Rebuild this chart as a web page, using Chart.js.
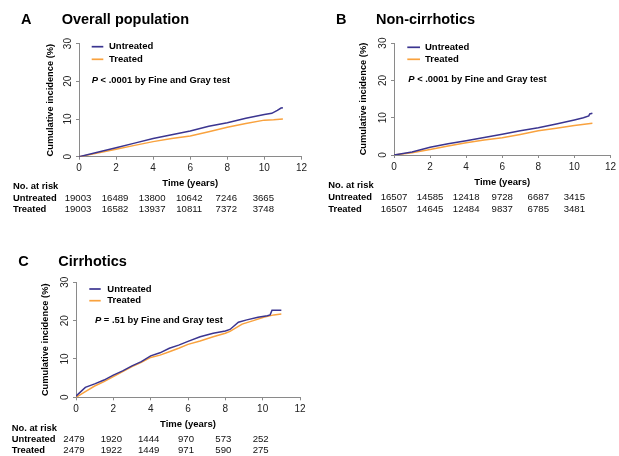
<!DOCTYPE html>
<html><head><meta charset="utf-8">
<script src="https://cdn.jsdelivr.net/npm/chart.js@4"></script>
<style>
html,body{margin:0;padding:0;background:#fff;}
#wrap{position:relative;width:619px;height:456px;overflow:hidden;background:#fff}
canvas{position:absolute}
</style></head><body>
<div id="wrap">
<canvas id="cA" width="310" height="220" style="left:0;top:0;width:310px;height:220px"></canvas>
<canvas id="cB" width="309" height="220" style="left:310px;top:0;width:309px;height:220px"></canvas>
<canvas id="cC" width="310" height="236" style="left:0;top:220px;width:310px;height:236px"></canvas>
</div>
<script>
// ---------- data ----------
const seriesNames = ['Untreated', 'Treated'];
const xTicks = [0, 2, 4, 6, 8, 10, 12];
const yTicks = [0, 10, 20, 30];

// Panel A: Overall population
const aUntreatedT = [0, 1, 2, 3, 4, 5, 6, 7, 8, 9, 10, 10.4, 10.7, 10.9, 11];
const aUntreatedY = [0, 1.2, 2.4, 3.6, 4.8, 5.8, 6.8, 8.1, 9.0, 10.2, 11.2, 11.5, 12.3, 12.9, 13.0];
const aTreatedT = [0, 1, 2, 3, 4, 5, 6, 7, 8, 9, 10, 10.5, 11];
const aTreatedY = [0, 0.95, 1.95, 3.0, 4.0, 4.8, 5.5, 6.6, 7.8, 8.8, 9.7, 9.8, 10.0];

// Panel B: Non-cirrhotics
const bUntreatedT = [0, 1, 2, 3, 4, 5, 6, 7, 8, 9, 10, 10.5, 10.8, 10.85, 11];
const bUntreatedY = [0, 0.8, 2.05, 3.0, 3.85, 4.7, 5.55, 6.5, 7.3, 8.3, 9.4, 10.0, 10.5, 11.0, 11.2];
const bTreatedT = [0, 1, 2, 3, 4, 5, 6, 7, 8, 9, 10, 11];
const bTreatedY = [0, 0.6, 1.5, 2.4, 3.3, 4.0, 4.6, 5.5, 6.5, 7.2, 7.9, 8.5];

// Panel C: Cirrhotics
const cUntreatedT = [0, 0.5, 1, 1.5, 2, 2.5, 3, 3.5, 4, 4.5, 5, 5.5, 6, 6.65, 7.35, 8, 8.25, 8.7, 9.15, 9.75, 10.25, 10.4, 10.5, 11];
const cUntreatedY = [0.3, 2.6, 3.5, 4.5, 5.8, 6.9, 8.2, 9.3, 10.8, 11.6, 12.8, 13.6, 14.6, 15.8, 16.7, 17.3, 17.7, 19.6, 20.2, 20.9, 21.3, 21.5, 22.7, 22.7];
const cTreatedT = [0, 0.5, 1, 1.5, 2, 2.5, 3, 3.5, 4, 4.5, 5, 5.5, 6, 6.65, 7.35, 8, 8.25, 8.9, 9.5, 10.05, 10.6, 11];
const cTreatedY = [0, 1.5, 2.95, 4.1, 5.4, 6.7, 8.0, 9.1, 10.4, 11.0, 11.9, 12.8, 13.8, 14.7, 15.8, 16.7, 17.2, 19.1, 20.0, 20.9, 21.5, 21.7];

// Numbers at risk
const riskTimes = [0, 2, 4, 6, 8, 10];
const aRiskUntreated = [19003, 16489, 13800, 10642, 7246, 3665];
const aRiskTreated = [19003, 16582, 13937, 10811, 7372, 3748];
const bRiskUntreated = [16507, 14585, 12418, 9728, 6687, 3415];
const bRiskTreated = [16507, 14645, 12484, 9837, 6785, 3481];
const cRiskUntreated = [2479, 1920, 1444, 970, 573, 252];
const cRiskTreated = [2479, 1922, 1449, 971, 590, 275];

const pTexts = ['< .0001 by Fine and Gray test', '< .0001 by Fine and Gray test', '= .51 by Fine and Gray test'];

// ---------- styling ----------
const FAM = "'Liberation Sans', Arial, Helvetica, sans-serif";
const COL_U = '#3b3590';
const COL_T = '#f9a23e';
const AXIS = '#8a8a8a';

function pts(ts, ys) { return ts.map((t, i) => ({x: t, y: ys[i]})); }

const panelPlugin = {
  id: 'panelText',
  afterDraw(chart, args, o) {
    const ctx = chart.ctx, ca = chart.chartArea, xs = chart.scales.x;
    ctx.save();
    ctx.fillStyle = '#000';
    ctx.textBaseline = 'middle';
    ctx.textAlign = 'left';
    // panel letter and title
    ctx.font = `bold 14.5px ${FAM}`;
    ctx.fillText(o.letter, o.letterX, o.titleY);
    ctx.fillText(o.title, o.titleX, o.titleY);
    // legend
    const ds = chart.data.datasets;
    ds.forEach((d, i) => {
      const y = ca.top + o.legY + i * o.legGap;
      ctx.strokeStyle = d.borderColor;
      ctx.lineWidth = 1.7;
      ctx.beginPath();
      ctx.moveTo(ca.left + o.legX0, y);
      ctx.lineTo(ca.left + o.legX1, y);
      ctx.stroke();
      ctx.font = `bold 9.5px ${FAM}`;
      ctx.fillText(d.label, ca.left + o.legTX, y);
    });
    // p-value text
    let px = ca.left + o.pX;
    const py = ca.top + o.pY;
    ctx.font = `italic bold 9.4px ${FAM}`;
    ctx.fillText('P', px, py);
    px += ctx.measureText('P ').width;
    ctx.font = `bold 9.4px ${FAM}`;
    ctx.fillText(o.pText, px, py);
    // numbers at risk
    const base = ca.bottom;
    ctx.font = `bold 9.4px ${FAM}`;
    ctx.fillText('No. at risk', o.rowX, base + o.r0);
    ctx.fillText(seriesNames[0], o.rowX, base + o.r1);
    ctx.fillText(seriesNames[1], o.rowX, base + o.r2);
    ctx.font = `9.6px ${FAM}`;
    ctx.fillStyle = '#111';
    ctx.textAlign = 'center';
    riskTimes.forEach((t, i) => {
      const x = xs.getPixelForValue(t) + o.nOff;
      ctx.fillText(String(o.risk[0][i]), x, base + o.r1);
      ctx.fillText(String(o.risk[1][i]), x, base + o.r2);
    });
    ctx.restore();
  }
};

function makeChart(id, p) {
  const el = document.getElementById(id);
  const H = el.height;
  return new Chart(el, {
    type: 'line',
    data: {
      datasets: [
        {label: seriesNames[0], data: pts(p.uT, p.uY), borderColor: COL_U, borderWidth: 1.5, pointRadius: 0, tension: 0, fill: false},
        {label: seriesNames[1], data: pts(p.tT, p.tY), borderColor: COL_T, borderWidth: 1.5, pointRadius: 0, tension: 0, fill: false}
      ]
    },
    options: {
      responsive: false,
      animation: false,
      events: [],
      layout: {padding: {left: 0, top: p.top, right: p.right, bottom: 0}},
      plugins: {legend: {display: false}, tooltip: {enabled: false}, title: {display: false}, panelText: p.text},
      scales: {
        x: {
          type: 'linear', min: 0, max: 12,
          afterBuildTicks(s) { s.ticks = xTicks.map(v => ({value: v})); },
          ticks: {color: '#222', font: {family: FAM, size: 10}, padding: 3, maxRotation: 0, autoSkip: false},
          grid: {drawOnChartArea: false, drawTicks: true, tickLength: 3, color: AXIS},
          border: {display: true, color: AXIS, width: 1},
          title: {display: true, text: 'Time (years)', color: '#000', font: {family: FAM, size: 9.5, weight: 'bold'}, padding: {top: 0, bottom: p.xTitlePad}},
          afterFit(s) { s.height = H - p.bottom; }
        },
        y: {
          type: 'linear', min: 0, max: 30,
          afterBuildTicks(s) { s.ticks = yTicks.map(v => ({value: v})); },
          ticks: {color: '#222', font: {family: FAM, size: 10}, padding: 2, minRotation: 90, maxRotation: 90, crossAlign: 'center'},
          grid: {drawOnChartArea: false, drawTicks: true, tickLength: 3, color: AXIS},
          border: {display: true, color: AXIS, width: 1},
          title: {display: true, text: 'Cumulative incidence (%)', color: '#000', font: {family: FAM, size: 9.3, weight: 'bold'}, padding: {top: p.yTitlePad, bottom: 0}},
          afterFit(s) { s.width = p.left; }
        }
      }
    },
    plugins: [panelPlugin]
  });
}

makeChart('cA', {
  uT: aUntreatedT, uY: aUntreatedY, tT: aTreatedT, tY: aTreatedY,
  left: 79, top: 43.6, right: 6.7, bottom: 156.7, xTitlePad: 30.7, yTitlePad: 44.4,
  text: {letter: 'A', letterX: 21, title: 'Overall population', titleX: 61.7, titleY: 20,
    legX0: 12.7, legX1: 24.3, legTX: 30, legY: 3.1, legGap: 12.6, pX: 12.7, pY: 36.4, pText: pTexts[0],
    rowX: 13, r0: 29.3, r1: 41.6, r2: 52.6, nOff: -1, risk: [aRiskUntreated, aRiskTreated]}
});
makeChart('cB', {
  uT: bUntreatedT, uY: bUntreatedY, tT: bTreatedT, tY: bTreatedY,
  left: 84, top: 43.1, right: 3.7, bottom: 155, xTitlePad: 32.4, yTitlePad: 47.7,
  text: {letter: 'B', letterX: 26, title: 'Non-cirrhotics', titleX: 66, titleY: 20,
    legX0: 13.3, legX1: 26, legTX: 31, legY: 4.2, legGap: 12, pX: 14.3, pY: 36.2, pText: pTexts[1],
    rowX: 18.3, r0: 30, r1: 42.7, r2: 54.3, nOff: 0, risk: [bRiskUntreated, bRiskTreated]}
});
makeChart('cC', {
  uT: cUntreatedT, uY: cUntreatedY, tT: cTreatedT, tY: cTreatedY,
  left: 76, top: 62.3, right: 10, bottom: 177.3, xTitlePad: 26.1, yTitlePad: 39.4,
  text: {letter: 'C', letterX: 18.3, title: 'Cirrhotics', titleX: 58.3, titleY: 41.7,
    legX0: 13.3, legX1: 24.7, legTX: 31.3, legY: 6.7, legGap: 11.7, pX: 19, pY: 38.4, pText: pTexts[2],
    rowX: 11.7, r0: 31, r1: 42, r2: 53, nOff: -2, risk: [cRiskUntreated, cRiskTreated]}
});
</script>
</body></html>
